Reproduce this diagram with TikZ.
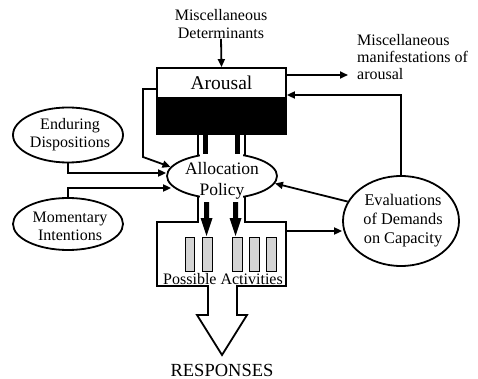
\documentclass[tikz,border=0pt]{standalone}
\usepackage{fontspec}
\setmainfont{Liberation Serif}
\usetikzlibrary{shapes.geometric,arrows.meta}
\begin{document}
\begin{tikzpicture}[x=1pt,y=-1pt,
  lw/.style={line width=1.8pt},
  arr/.style={lw,-{Triangle[length=8pt,width=7pt]}},
  oval/.style={ellipse,draw,lw,fill=white,inner sep=0pt},
  lbl/.style={align=center,inner sep=0pt,font=\fontsize{16}{18}\selectfont},
  gbar/.style={draw,line width=0.8pt,fill=black!17},
]
\useasboundingbox (0,0) rectangle (478,379);

% pipe / activities / response outline
\draw[lw,fill=white,line join=miter] (198,134) -- (198,222) -- (157,222) -- (157,286) -- (208,286)
  -- (208,315) -- (197,315) -- (222,355) -- (247,315) -- (237,315) -- (237,286)
  -- (286,286) -- (286,222) -- (245,222) -- (245,134);

% arousal box
\fill (157,97) rectangle (286,134);
\node[draw,lw,minimum width=129pt,minimum height=66pt,inner sep=0pt] (arousal) at (221.5,101) {};
\node[lbl,font=\fontsize{19.5}{22}\selectfont] (arousalT) at (221.5,83) {Arousal};

% allocation policy
\node[oval,minimum width=110pt,minimum height=45pt] (alloc) at (222,176) {};
\fill[white] (199.6,146) rectangle (243.4,206);
\fill (203,134) rectangle (208,154);
\fill (235,134) rectangle (240,154);
\node[lbl,font=\fontsize{17.5}{21}\selectfont] (allocT) at (222,181) {Allocation\\Policy};

% black arrows to activities
\foreach \c in {206.5,235.5}
  \fill ({\c-2.5},202) -- ({\c+2.5},202) -- ({\c+2.5},218) -- ({\c+6},218) -- (\c,236)
        -- ({\c-6},218) -- ({\c-2.5},218) -- cycle;

% activity bars
\foreach \a/\b in {185/194,202/212,232/242,249/259,266/276}
  \draw[gbar] (\a,237) rectangle (\b,271);
\node[lbl] (actT) at (223,279) {Possible Activities};
\node[lbl,font=\fontsize{18.5}{20}\selectfont] (resp) at (222,370) {RESPONSES};

% side ellipses
\node[oval,minimum width=110pt,minimum height=55pt] (endur) at (68,135) {};
\node[lbl] (endurT) at (70,135) {Enduring\\Dispositions};
\node[oval,minimum width=110pt,minimum height=52pt] (mom) at (68,224) {};
\node[lbl] (momT) at (70,226) {Momentary\\Intentions};
\node[oval,minimum width=116pt,minimum height=90pt] (eval) at (401,221) {};
\node[lbl,font=\fontsize{16.3}{19}\selectfont] (evalT) at (403,221) {Evaluations\\of Demands\\on Capacity};

% texts
\node[lbl] (detx) at (221,24) {Miscellaneous\\Determinants};
\node[lbl,align=left,anchor=west,font=\fontsize{16}{17}\selectfont] (manif) at (357,57) {Miscellaneous\\manifestations of\\arousal};

\coordinate (mo) at (348,75);
\coordinate (actR) at (286,231);

% connectors
\draw[arr] (detx.south) -- (arousal.north);
\draw[arr] ([yshift=26pt]arousal.east) -- (mo);
\draw[arr] (eval.north) |- ([yshift=6pt]arousal.east);
\draw[arr] ([yshift=12pt]arousal.west) -- (143,89) -- (143,157) -- (alloc.170);
\draw[arr] (endur.south) |- ([yshift=3pt]alloc.west);
\draw[arr] (mom.north) |- ([xshift=5pt,yshift=-12pt]alloc.west);
\draw[arr] (eval.160) -- (alloc.-8);
\draw[arr] (actR) -- (actR -| eval.west);
\end{tikzpicture}
\end{document}
